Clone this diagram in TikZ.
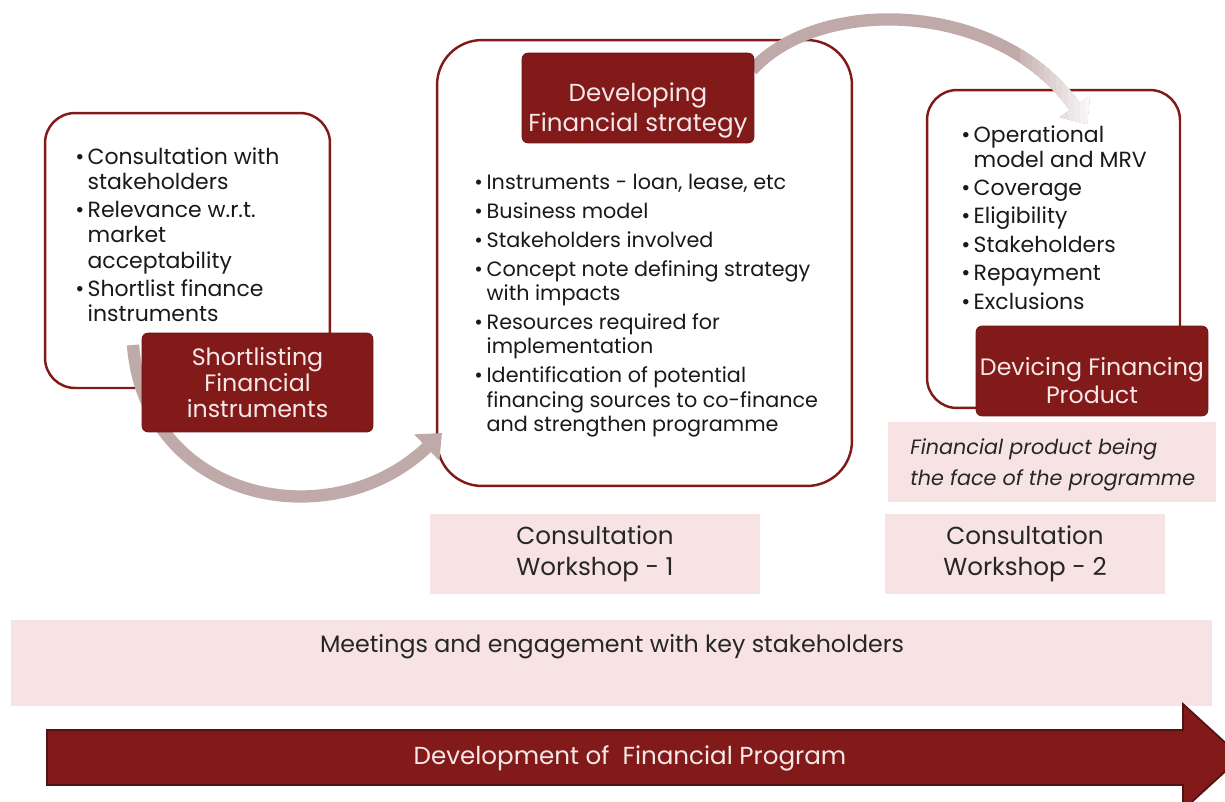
\documentclass[tikz,border=0pt]{standalone}
\usepackage{fontspec}
\setmainfont{Poppins}
\usetikzlibrary{arrows.meta}
\definecolor{wine}{RGB}{131,26,26}
\definecolor{blush}{RGB}{248,227,228}
\definecolor{mauve}{RGB}{192,169,169}
\definecolor{paletxt}{RGB}{246,232,232}

\newcommand{\bl}{\makebox[7pt][l]{\textbullet}}
\newcommand{\ind}{\hspace*{7pt}}
\newcommand{\tagtxt}[2]{\raisebox{#1}[0pt][0pt]{\begin{tabular}{@{}c@{}}#2\end{tabular}}}

\begin{document}
\begin{tikzpicture}[x=0.02cm, y=-0.02cm,
	card/.style={draw=wine, line width=1.4pt, fill=white, inner sep=0pt},
	tag/.style={fill=wine, draw=wine!80!black, line width=0.4pt, rounded corners=0.12cm, text=paletxt, inner sep=0pt},
	pinkbox/.style={fill=blush, inner sep=0pt},
	flow/.style={draw=mauve, line width=7pt, -{Triangle[width=20pt,length=12pt]}},
	bullets/.style={anchor=north west, inner sep=0pt, align=left, text=black!90, font=\fontsize{12.5}{14.4}\selectfont}]

	\useasboundingbox (0,0) rectangle (1225,802);
	\clip (0,0) rectangle (1225,802);

	%les trois cartes
	\node[card, rounded corners=0.6cm, minimum width=5.7cm, minimum height=5.5cm] (shortcard) at (187.5,250.5) {};
	\node[card, rounded corners=0.9cm, minimum width=8.3cm, minimum height=8.92cm] (stratcard) at (644.5,263) {};
	\node[card, rounded corners=0.6cm, minimum width=5.06cm, minimum height=6.36cm] (prodcard) at (1053.5,249) {};

	%listes
	\node[bullets] (shortlist) at (75,147) {\bl Consultation with\\ \ind stakeholders\\[1.7pt]
		\bl Relevance w.r.t.\\ \ind market\\ \ind acceptability\\[1.7pt]
		\bl Shortlist finance\\ \ind instruments};
	\node[bullets, font=\fontsize{11.8}{13.9}\selectfont] (stratlist) at (474,174) {\bl Instruments - loan, lease, etc\\[2.5pt]
		\bl Business model\\[2.5pt]
		\bl Stakeholders involved\\[2.5pt]
		\bl Concept note defining strategy\\ \ind with impacts\\[2.5pt]
		\bl Resources required for\\ \ind implementation\\[2.5pt]
		\bl Identification of potential\\ \ind financing sources to co-finance\\ \ind and strengthen programme};
	\node[bullets, font=\fontsize{12.5}{14.2}\selectfont] (prodlist) at (961,125) {\bl Operational\\ \ind model and MRV\\[2pt]
		\bl Coverage\\[2pt] \bl Eligibility\\[2pt] \bl Stakeholders\\[2pt]
		\bl Repayment\\[2pt] \bl Exclusions};

	%fleches courbes
	\coordinate (a1s) at (133,345);
	\coordinate (a1e) at (442,433);
	\coordinate (a2s) at (752,70);
	\coordinate (a2e) at (1087,124);
	\draw[flow] (a1s) .. controls (145,500) and (330,540) .. (a1e);
	\draw[flow] (a2s) .. controls (820,-5) and (1000,0) .. (a2e);
	%pointe qui s'efface
	\foreach \i [evaluate=\i as \pc using {int(85-7*\i)}] in {0,...,11}{
		\begin{scope}
			\clip (1020+6*\i,0) rectangle (1110,150);
			\draw[flow, draw=mauve!\pc] (a2s) .. controls (820,-5) and (1000,0) .. (a2e);
		\end{scope}
	}

	%etiquettes
	\node[tag, minimum width=4.62cm, minimum height=1.98cm, font=\fontsize{13.5}{14.3}\selectfont] (shorttag) at (257.5,382.5) {\tagtxt{-5.7pt}{Shortlisting\\ Financial\\ instruments}};
	\node[tag, minimum width=4.64cm, minimum height=1.8cm, font=\fontsize{14}{17}\selectfont] (strattag) at (638,98) {\tagtxt{-10.9pt}{Developing\\ Financial strategy}};
	\node[tag, minimum width=4.64cm, minimum height=1.8cm, font=\fontsize{13.5}{16.4}\selectfont] (prodtag) at (1092,371) {\tagtxt{-10.8pt}{Devicing Financing\\ Product}};

	%boites roses
	\node[pinkbox, minimum width=6.56cm, minimum height=1.6cm] (face) at (1052,462) {};
	\node[anchor=north west, inner sep=0pt, align=left, text=black!85, font=\fontsize{11.8}{17.6}\selectfont\itshape] (facetxt) at (910,438) {Financial product being\\ the face of the programme};
	\node[pinkbox, minimum width=6.6cm, minimum height=1.6cm, align=center, text=black!85, font=\fontsize{14}{18}\selectfont] (ws1) at (595,554) {Consultation\\ Workshop - 1};
	\node[pinkbox, minimum width=5.6cm, minimum height=1.6cm, align=center, text=black!85, font=\fontsize{14}{18}\selectfont] (ws2) at (1025,554) {Consultation\\ Workshop - 2};
	\node[pinkbox, minimum width=24.02cm, minimum height=1.72cm] (meet) at (611.5,663) {};
	\node[text=black!85, font=\fontsize{13.5}{16}\selectfont, inner sep=0pt] (meettxt) at (612,647) {Meetings and engagement with key stakeholders};

	%grande fleche
	\fill[wine, draw=wine!65!black, line width=1pt] (47,730) -- (1183,730) -- (1183,704) -- (1241,757) -- (1183,810) -- (1183,785) -- (47,785) -- cycle;
	\node[text=paletxt, font=\fontsize{14}{16}\selectfont, inner sep=0pt] (prog) at (630,758) {Development of~ Financial Program};

\end{tikzpicture}
\end{document}
